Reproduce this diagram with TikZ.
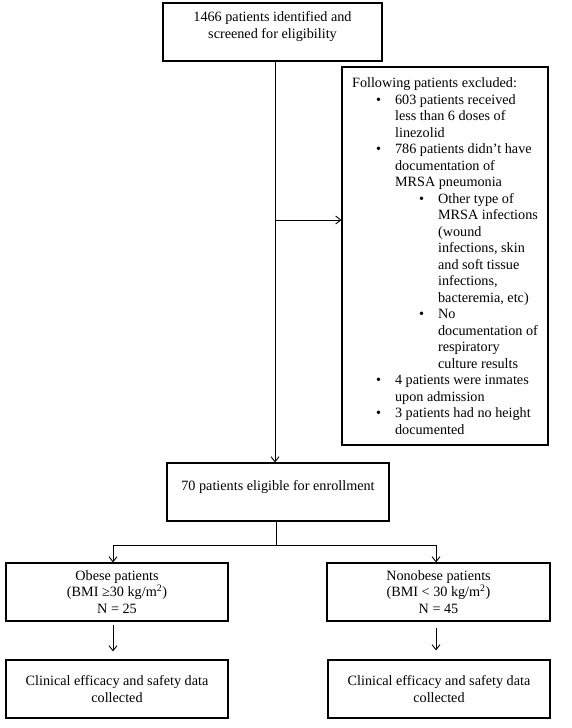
\documentclass[tikz,border=0pt]{standalone}
\usepackage{fontspec}
\setmainfont{Liberation Serif}
\usetikzlibrary{arrows.meta}
\newcommand{\itemA}{\hspace*{43pt}\llap{\textbullet\hspace{14pt}}}
\newcommand{\contA}{\hspace*{43pt}}
\newcommand{\itemB}{\hspace*{86pt}\llap{\textbullet\hspace{14pt}}}
\newcommand{\contB}{\hspace*{86pt}}
\begin{document}
\begin{tikzpicture}[x=1pt,y=-1pt,
  box/.style={draw,line width=1.2pt,align=center,inner sep=0pt,
    font=\fontsize{14.2}{16.5}\selectfont},
  link/.style={line width=0.9pt},
  >={Straight Barb[length=5pt,width=8pt]}]
\useasboundingbox (0,0) rectangle (572,728);
% boxes
\node[box,minimum width=219pt,minimum height=58pt,text depth=14pt] (screen) at (272.5,32)
  {1466 patients identified and\\screened for eligibility};
\node[box,align=left,minimum width=206pt,minimum height=378pt] (excl) at (445,256)
  {Following patients excluded:\\
   \itemA 603 patients received\\
   \contA less than 6 doses of\\
   \contA linezolid\\
   \itemA 786 patients didn’t have\\
   \contA documentation of\\
   \contA MRSA pneumonia\\
   \itemB Other type of\\
   \contB MRSA infections\\
   \contB (wound\\
   \contB infections, skin\\
   \contB and soft tissue\\
   \contB infections,\\
   \contB bacteremia, etc)\\
   \itemB No\\
   \contB documentation of\\
   \contB respiratory\\
   \contB culture results\\
   \itemA 4 patients were inmates\\
   \contA upon admission\\
   \itemA 3 patients had no height\\
   \contA documented};
\node[box,minimum width=222pt,minimum height=58pt,text depth=13.5pt] (elig) at (278,492)
  {70 patients eligible for enrollment};
\node[box,minimum width=222pt,minimum height=58pt] (obese) at (117,592)
  {Obese patients\\(BMI ≥30 kg/m\textsuperscript{2})\\N = 25};
\node[box,minimum width=223pt,minimum height=58pt] (nonobese) at (438.5,592)
  {Nonobese patients\\(BMI < 30 kg/m\textsuperscript{2})\\N = 45};
\node[box,minimum width=222pt,minimum height=58pt] (dataA) at (117,689)
  {Clinical efficacy and safety data\\collected};
\node[box,minimum width=222pt,minimum height=58pt] (dataB) at (439,689)
  {Clinical efficacy and safety data\\collected};
% connectors
\coordinate (split) at (275,220);
\coordinate (fork) at (276,545);
\coordinate (forkL) at (113,545);
\coordinate (forkR) at (436,545);
\draw[link] (screen.south -| split) -- (split);
\draw[link,->] (split) -- (split |- elig.north);
\draw[link,->] (split) -- (split -| excl.west);
\draw[link] (elig.south -| fork) -- (fork);
\draw[link] (forkL) -- (forkR);
\draw[link,->] (forkL) -- (forkL |- obese.north);
\draw[link,->] (forkR) -- (forkR |- nonobese.north);
\draw[link,->,shorten <=3pt,shorten >=8pt] (obese.south -| forkL) -- (dataA.north -| forkL);
\draw[link,->,shorten <=6pt,shorten >=9pt] (nonobese.south -| forkR) -- (dataB.north -| forkR);
\end{tikzpicture}
\end{document}
